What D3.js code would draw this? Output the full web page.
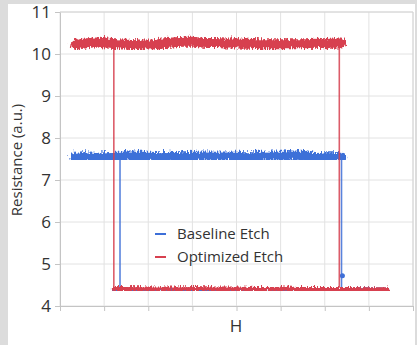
<!DOCTYPE html>
<html>
<head>
<meta charset="utf-8">
<script src="https://cdn.jsdelivr.net/npm/d3@7"></script>
<style>
  html, body { margin: 0; padding: 0; background: #dcdcdc; }
  svg { display: block; }
</style>
</head>
<body>
<div id="chart"></div>
<script>
'use strict';

// readings (x in grid units, resistance in a.u.)
const yTicks = [4, 5, 6, 7, 8, 9, 10, 11];
const xGrid = [0, 1, 2, 3, 4, 5, 6, 7, 8];

const seriesNames = ['Baseline Etch', 'Optimized Etch'];
const seriesColors = ['#3d6fd8', '#d7404f'];

// high-resistance branch
const highX = [0.3, 0.5, 0.75, 1.0, 1.25, 1.5, 1.75, 2.0, 2.25, 2.5, 2.75, 3.0,
  3.25, 3.5, 3.75, 4.0, 4.25, 4.5, 4.75, 5.0, 5.25, 5.5, 5.75, 6.0, 6.2, 6.33];
const baselineHigh = [7.58, 7.59, 7.58, 7.59, 7.60, 7.61, 7.60, 7.60, 7.59, 7.60,
  7.59, 7.60, 7.61, 7.60, 7.61, 7.60, 7.59, 7.60, 7.61, 7.60, 7.63, 7.62, 7.57,
  7.59, 7.59, 7.60];
const optimizedHigh = [10.26, 10.29, 10.32, 10.30, 10.28, 10.27, 10.25, 10.25,
  10.29, 10.32, 10.34, 10.34, 10.31, 10.31, 10.30, 10.30, 10.29, 10.28, 10.28,
  10.28, 10.28, 10.28, 10.29, 10.28, 10.30, 10.30];

// low-resistance branch
const lowX = [1.22, 1.5, 2.0, 2.5, 3.0, 3.5, 4.0, 4.5, 5.0, 5.5, 6.0, 6.5, 7.0, 7.35];
const baselineLow = [4.43, 4.43, 4.42, 4.43, 4.43, 4.42, 4.43, 4.43, 4.42, 4.43,
  4.43, 4.42, 4.42, 4.41];
const optimizedLow = [4.45, 4.45, 4.44, 4.44, 4.45, 4.44, 4.44, 4.43, 4.44, 4.43,
  4.43, 4.43, 4.42, 4.42];

// switching fields: [down-switch on the way back, up-switch]
const baselineSwitch = [1.36, 6.38];
const optimizedSwitch = [1.22, 6.33];
const baselineStray = [6.4, 4.72];

const width = 417;
const height = 345;
const margin = {top: 12, right: 4, bottom: 39, left: 60};
const plotW = 413 - margin.left;
const plotH = 306 - margin.top;

const svg = d3.select('#chart')
  .append('svg')
  .attr('width', width)
  .attr('height', height);

svg.append('rect')
  .attr('x', 8).attr('y', 4)
  .attr('width', 407).attr('height', height - 4)
  .attr('fill', '#ffffff');

const defs = svg.append('defs');
const filt = defs.append('filter')
  .attr('id', 'noisy')
  .attr('x', '-5%').attr('y', '-150%')
  .attr('width', '110%').attr('height', '400%');
filt.append('feTurbulence')
  .attr('type', 'turbulence')
  .attr('baseFrequency', '0.7 0.12')
  .attr('numOctaves', 2)
  .attr('seed', 5)
  .attr('result', 'noise');
filt.append('feDisplacementMap')
  .attr('in', 'SourceGraphic')
  .attr('in2', 'noise')
  .attr('scale', 7)
  .attr('xChannelSelector', 'B')
  .attr('yChannelSelector', 'G');

const g = svg.append('g')
  .attr('transform', `translate(${margin.left},${margin.top})`);

const x = d3.scaleLinear().domain([0, 8]).range([0, plotW]);
const y = d3.scaleLinear().domain([4, 11]).range([plotH, 0]);

// grid
g.selectAll('.hgrid')
  .data(yTicks)
  .join('line')
  .attr('x1', 0).attr('x2', plotW)
  .attr('y1', d => y(d)).attr('y2', d => y(d))
  .attr('stroke', '#e2e2e2')
  .attr('stroke-width', 1);

g.selectAll('.vgrid')
  .data(xGrid)
  .join('line')
  .attr('x1', d => x(d)).attr('x2', d => x(d))
  .attr('y1', 0).attr('y2', plotH)
  .attr('stroke', '#e2e2e2')
  .attr('stroke-width', 1);

// axes
const yAxis = g.append('g')
  .call(d3.axisLeft(y).tickValues(yTicks).tickFormat(d3.format('d'))
    .tickSize(5).tickPadding(4));
const xAxis = g.append('g')
  .attr('transform', `translate(0,${plotH})`)
  .call(d3.axisBottom(x).tickValues(xGrid).tickSize(5).tickFormat(''));

[yAxis, xAxis].forEach(a => {
  a.select('.domain').attr('stroke', '#c4c4c4');
  a.selectAll('.tick line').attr('stroke', '#c4c4c4');
});
yAxis.selectAll('.tick text')
  .attr('font-family', '"Open Sans", sans-serif')
  .attr('font-size', '17px')
  .attr('fill', '#333333');

const line = d3.line()
  .x(d => x(d[0]))
  .y(d => y(d[1]))
  .curve(d3.curveMonotoneX);

function drawSeries(high, low, sw, color, stray) {
  const highPts = highX.map((v, i) => [v, high[i]]);
  const lowPts = lowX.map((v, i) => [v, low[i]]);

  // switching edges
  g.append('line')
    .attr('x1', x(sw[0])).attr('x2', x(sw[0]))
    .attr('y1', y(d3.mean(high))).attr('y2', y(low[0]))
    .attr('stroke', color).attr('stroke-width', 1.6).attr('opacity', 0.85);
  g.append('line')
    .attr('x1', x(sw[1])).attr('x2', x(sw[1]))
    .attr('y1', y(high[high.length - 1])).attr('y2', y(d3.mean(low)))
    .attr('stroke', color).attr('stroke-width', 1.6).attr('opacity', 0.85);

  g.append('path')
    .attr('d', line(highPts))
    .attr('fill', 'none')
    .attr('stroke', color)
    .attr('stroke-width', 10)
    .attr('stroke-linecap', 'round')
    .attr('filter', 'url(#noisy)');

  g.append('path')
    .attr('d', line(lowPts))
    .attr('fill', 'none')
    .attr('stroke', color)
    .attr('stroke-width', 6)
    .attr('stroke-linecap', 'round')
    .attr('filter', 'url(#noisy)');

  if (stray) {
    g.append('circle')
      .attr('cx', x(stray[0])).attr('cy', y(stray[1]))
      .attr('r', 2.5)
      .attr('fill', color);
  }
}

drawSeries(baselineHigh, baselineLow, baselineSwitch, seriesColors[0], baselineStray);
drawSeries(optimizedHigh, optimizedLow, optimizedSwitch, seriesColors[1], null);

// plot frame (top/right)
g.append('path')
  .attr('d', `M0,0H${plotW}V${plotH}`)
  .attr('fill', 'none')
  .attr('stroke', '#d4d4d4');

// legend
const legend = g.append('g')
  .attr('transform', `translate(${155 - margin.left},${234 - margin.top})`);
seriesNames.forEach((name, i) => {
  const row = legend.append('g').attr('transform', `translate(0,${i * 23})`);
  row.append('line')
    .attr('x1', 0).attr('x2', 11)
    .attr('stroke', seriesColors[i]).attr('stroke-width', 2);
  row.append('text')
    .attr('x', 22).attr('y', 0)
    .attr('dy', '0.35em')
    .attr('font-family', '"Open Sans", sans-serif')
    .attr('font-size', '15px')
    .attr('fill', '#333333')
    .text(name);
});

// axis titles
svg.append('text')
  .attr('x', 236).attr('y', 327)
  .attr('text-anchor', 'middle')
  .attr('dominant-baseline', 'middle')
  .attr('font-family', '"Open Sans", sans-serif')
  .attr('font-size', '17px')
  .attr('fill', '#333333')
  .text('H');

svg.append('text')
  .attr('transform', 'translate(18,160) rotate(-90)')
  .attr('text-anchor', 'middle')
  .attr('dominant-baseline', 'middle')
  .attr('font-family', '"Open Sans", sans-serif')
  .attr('font-size', '15px')
  .attr('fill', '#333333')
  .text('Resistance (a.u.)');
</script>
</body>
</html>
